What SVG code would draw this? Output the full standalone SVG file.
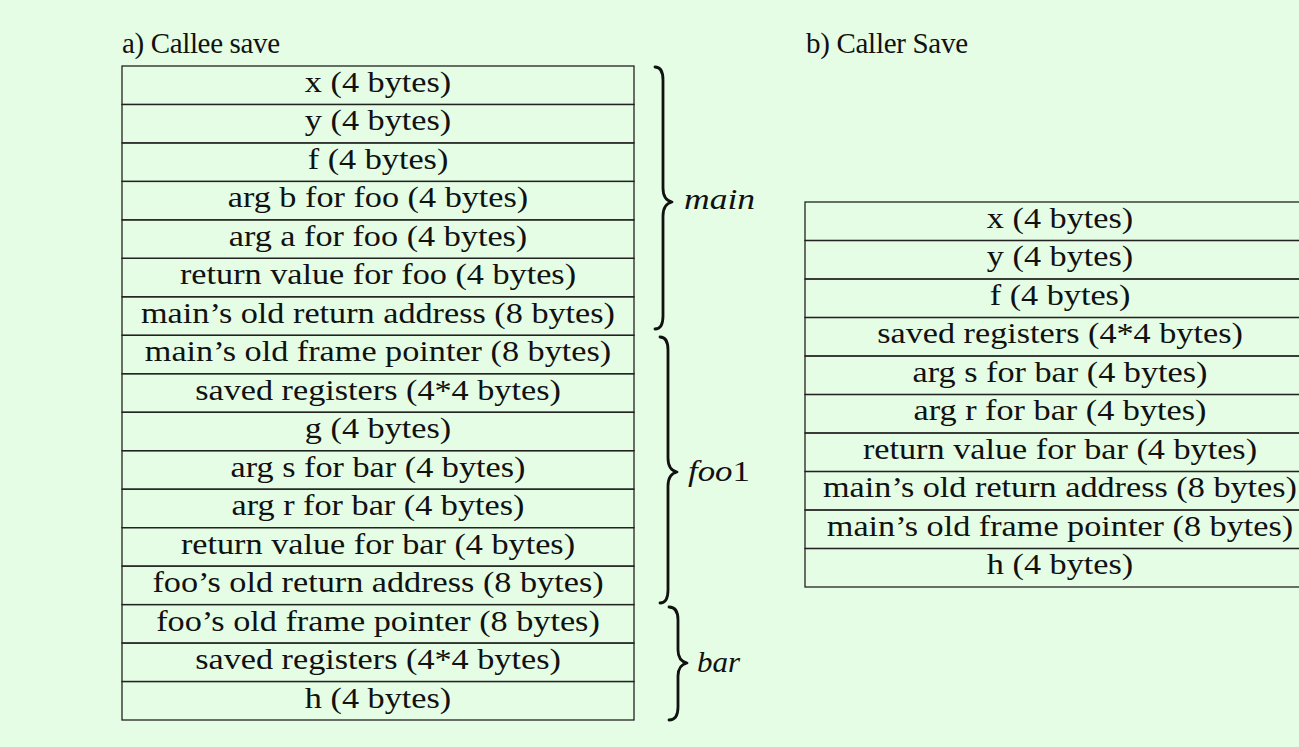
<svg xmlns="http://www.w3.org/2000/svg" width="1299" height="747" viewBox="0 0 1299 747">
<style>
.bg{fill:#e5fde5}
.cell{fill:none;stroke:#222;stroke-width:1.3}
.t{font-family:"Liberation Serif","DejaVu Serif",serif;font-size:29px;fill:#111;text-anchor:middle;transform-box:fill-box;transform-origin:center;transform:scaleX(1.18)}
.h{font-family:"Liberation Serif","DejaVu Serif",serif;font-size:29px;fill:#111}
.lbl{font-family:"Liberation Serif","DejaVu Serif",serif;font-size:29px;font-style:italic;fill:#111}
.brace{fill:none;stroke:#111;stroke-width:2.8;stroke-linecap:round;stroke-linejoin:round}
</style>
<rect class="bg" x="0" y="0" width="1299" height="747"/>
<text class="h" x="122" y="53" textLength="158">a) Callee save</text>
<text class="h" x="806" y="53" textLength="162">b) Caller Save</text>
<g id="left-stack">
<g id="l0"><rect class="cell" x="122" y="66" width="512" height="38.47"/><text class="t" x="378" y="92">x (4 bytes)</text></g>
<g id="l1"><rect class="cell" x="122" y="104.47" width="512" height="38.47"/><text class="t" x="378" y="130.5">y (4 bytes)</text></g>
<g id="l2"><rect class="cell" x="122" y="142.94" width="512" height="38.47"/><text class="t" x="378" y="169">f (4 bytes)</text></g>
<g id="l3"><rect class="cell" x="122" y="181.41" width="512" height="38.47"/><text class="t" x="378" y="207.5">arg b for foo (4 bytes)</text></g>
<g id="l4"><rect class="cell" x="122" y="219.88" width="512" height="38.47"/><text class="t" x="378" y="246">arg a for foo (4 bytes)</text></g>
<g id="l5"><rect class="cell" x="122" y="258.35" width="512" height="38.47"/><text class="t" x="378" y="284.5">return value for foo (4 bytes)</text></g>
<g id="l6"><rect class="cell" x="122" y="296.82" width="512" height="38.47"/><text class="t" x="378" y="323">main’s old return address (8 bytes)</text></g>
<g id="l7"><rect class="cell" x="122" y="335.29" width="512" height="38.47"/><text class="t" x="378" y="361.5">main’s old frame pointer (8 bytes)</text></g>
<g id="l8"><rect class="cell" x="122" y="373.76" width="512" height="38.47"/><text class="t" x="378" y="400">saved registers (4*4 bytes)</text></g>
<g id="l9"><rect class="cell" x="122" y="412.24" width="512" height="38.47"/><text class="t" x="378" y="438.5">g (4 bytes)</text></g>
<g id="l10"><rect class="cell" x="122" y="450.71" width="512" height="38.47"/><text class="t" x="378" y="477">arg s for bar (4 bytes)</text></g>
<g id="l11"><rect class="cell" x="122" y="489.18" width="512" height="38.47"/><text class="t" x="378" y="515.5">arg r for bar (4 bytes)</text></g>
<g id="l12"><rect class="cell" x="122" y="527.65" width="512" height="38.47"/><text class="t" x="378" y="554">return value for bar (4 bytes)</text></g>
<g id="l13"><rect class="cell" x="122" y="566.12" width="512" height="38.47"/><text class="t" x="378" y="592.5">foo’s old return address (8 bytes)</text></g>
<g id="l14"><rect class="cell" x="122" y="604.59" width="512" height="38.47"/><text class="t" x="378" y="631">foo’s old frame pointer (8 bytes)</text></g>
<g id="l15"><rect class="cell" x="122" y="643.06" width="512" height="38.47"/><text class="t" x="378" y="669.5">saved registers (4*4 bytes)</text></g>
<g id="l16"><rect class="cell" x="122" y="681.53" width="512" height="38.47"/><text class="t" x="378" y="708">h (4 bytes)</text></g>
</g>
<g id="right-stack">
<g id="r0"><rect class="cell" x="805" y="202" width="510" height="38.5"/><text class="t" x="1060" y="228">x (4 bytes)</text></g>
<g id="r1"><rect class="cell" x="805" y="240.5" width="510" height="38.5"/><text class="t" x="1060" y="266.5">y (4 bytes)</text></g>
<g id="r2"><rect class="cell" x="805" y="279" width="510" height="38.5"/><text class="t" x="1060" y="305">f (4 bytes)</text></g>
<g id="r3"><rect class="cell" x="805" y="317.5" width="510" height="38.5"/><text class="t" x="1060" y="343.5">saved registers (4*4 bytes)</text></g>
<g id="r4"><rect class="cell" x="805" y="356" width="510" height="38.5"/><text class="t" x="1060" y="382">arg s for bar (4 bytes)</text></g>
<g id="r5"><rect class="cell" x="805" y="394.5" width="510" height="38.5"/><text class="t" x="1060" y="420.5">arg r for bar (4 bytes)</text></g>
<g id="r6"><rect class="cell" x="805" y="433" width="510" height="38.5"/><text class="t" x="1060" y="459">return value for bar (4 bytes)</text></g>
<g id="r7"><rect class="cell" x="805" y="471.5" width="510" height="38.5"/><text class="t" x="1060" y="497.5">main’s old return address (8 bytes)</text></g>
<g id="r8"><rect class="cell" x="805" y="510" width="510" height="38.5"/><text class="t" x="1060" y="536">main’s old frame pointer (8 bytes)</text></g>
<g id="r9"><rect class="cell" x="805" y="548.5" width="510" height="38.5"/><text class="t" x="1060" y="574.5">h (4 bytes)</text></g>
</g>
<g id="braces">
<g id="brace-main"><path class="brace" d="M655,67 Q663,67 663,80 L663,188 Q663,200 672,202 Q663,204 663,216 L663,316 Q663,329 655,329"/><text class="lbl" x="684" y="209" textLength="71" lengthAdjust="spacingAndGlyphs">main</text></g>
<g id="brace-foo1"><path class="brace" d="M660,337 Q668,337 668,350 L668,458 Q668,470 677,472 Q668,474 668,486 L668,590 Q668,603 660,603"/><text class="lbl" x="688" y="481" textLength="62" lengthAdjust="spacingAndGlyphs">foo<tspan font-style="normal">1</tspan></text></g>
<g id="brace-bar"><path class="brace" d="M669,607 Q678,607 678,620 L678,650 Q678,661 687,663 Q678,665 678,676 L678,707 Q678,720 669,720"/><text class="lbl" x="697" y="672" textLength="43" lengthAdjust="spacingAndGlyphs">bar</text></g>
</g>
</svg>
